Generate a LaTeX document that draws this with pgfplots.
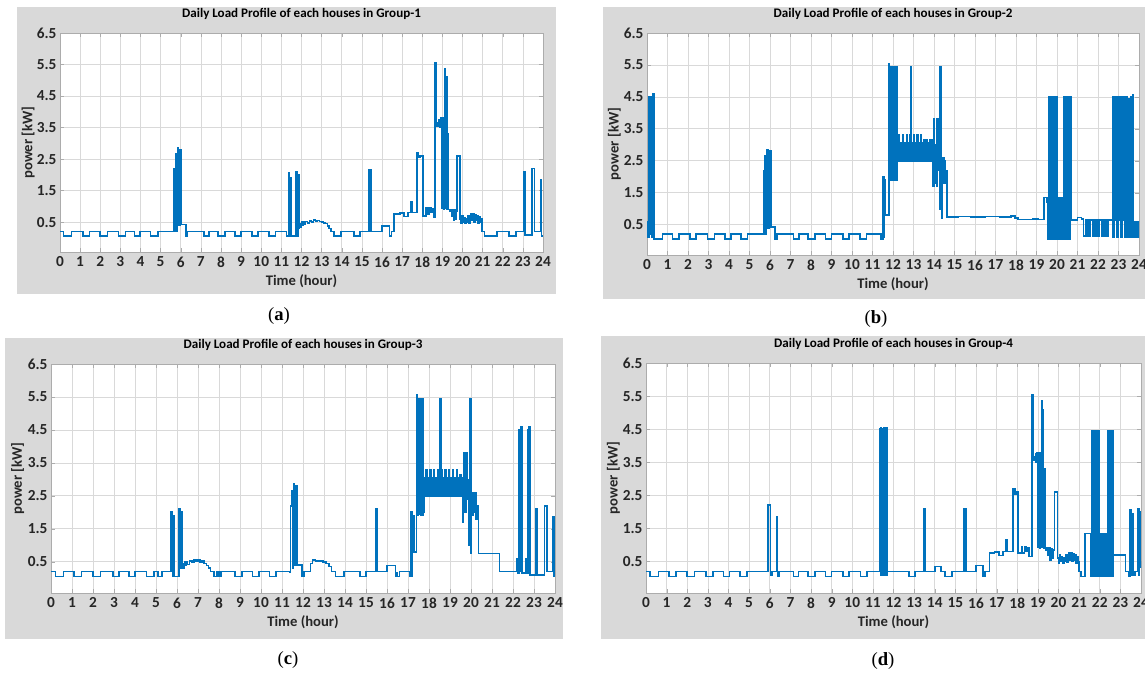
\documentclass[border=0pt]{standalone}
\usepackage{fontspec}
\setmainfont{Carlito}
\newfontfamily\capfont{Liberation Serif}
\usepackage{pgfplots}
\pgfplotsset{compat=1.18}
\definecolor{mblue}{RGB}{0,114,189}
\definecolor{panelgray}{RGB}{217,217,217}

\pgfplotsset{
  loadpanel/.style={
    scale only axis,
    xmin=0, xmax=24, ymin=-0.45, ymax=6.5,
    xtick={0,1,...,24},
    xticklabels={0,1,2,3,4,5,6,7,8,9,10,11,12,13,14,15,16,17,18,19,20,21,22,23,24},
    ytick={0.5,1.5,2.5,3.5,4.5,5.5,6.5},
    yticklabels={0.5,1.5,2.5,3.5,4.5,5.5,6.5},
    grid=major,
    major grid style={gray!30, line width=0.5pt},
    axis line style={gray!65},
    tick style={gray!65},
    major tick length=3pt,
    tick align=inside,
    axis background/.style={fill=white},
    ticklabel style={font=\bfseries\fontsize{11.5}{13}\selectfont, text=black!85},
    xticklabel style={anchor=north, inner sep=0pt, yshift=-3.5pt},
    yticklabel style={anchor=east, inner sep=0pt, xshift=-2.5pt},
    xlabel={Time (hour)}, ylabel={power [kW]},
    label style={font=\bfseries\fontsize{11}{13}\selectfont, text=black!85},
    xlabel style={at={(axis description cs:0.5,0)}, anchor=center, yshift=-21.5pt},
    ylabel style={at={(axis description cs:-0.066,0.5)}, anchor=center},
    title style={font=\bfseries\fontsize{9.8}{11}\selectfont, at={(axis description cs:0.5,1)}, anchor=center, yshift=8.5pt},
  },
  loadline/.style={const plot, color=mblue, line width=1.25pt, mark=none},
}

\begin{document}
\begin{tikzpicture}
\path[use as bounding box] (0pt,0pt) rectangle (858.75pt,-505.5pt);
% panel backgrounds
\fill[panelgray] (12.75pt,-5.25pt) rectangle (417pt,-220.5pt);
\fill[panelgray] (452.25pt,-5.25pt) rectangle (858.75pt,-224.25pt);
\fill[panelgray] (3.75pt,-253.5pt) rectangle (422.25pt,-479.25pt);
\fill[panelgray] (450.75pt,-252pt) rectangle (858.75pt,-479.25pt);

% ---------------- Group-1
\begin{axis}[loadpanel, at={(45pt,-189pt)}, anchor=south west,
  width=362.25pt, height=164.25pt,
  title={Daily Load Profile of each houses in Group-1}]
\addplot[loadline] coordinates {
(0,0.2)(0.18,0.05)(0.57,0.2)(1.14,0.05)(1.46,0.2)(2.0,0.05)(2.36,0.2)(2.9,0.05)(3.25,0.2)(3.7,0.05)(3.96,0.2)(4.5,0.05)(4.86,0.2)
(5.68,2.2)(5.74,2.65)(5.78,0.2)(5.8,2.55)(5.84,2.85)(5.88,0.4)(5.95,2.8)(6.04,0.42)(6.25,0.05)(6.32,0.2)
(7.15,0.05)(7.4,0.2)(7.85,0.05)(8.2,0.2)(8.7,0.05)(9.0,0.2)(9.55,0.05)(9.85,0.2)(10.4,0.05)(10.7,0.2)(11.25,0.05)
(11.36,2.05)(11.4,0.05)(11.45,1.9)(11.5,0.05)(11.72,2.1)(11.78,0.05)(11.82,2.0)(11.86,0.3)
(11.9,0.45)(11.95,0.35)(12.0,0.5)(12.05,0.4)(12.1,0.5)(12.15,0.42)(12.2,0.52)(12.3,0.48)(12.4,0.53)(12.5,0.5)(12.6,0.56)(12.7,0.53)(12.8,0.55)(12.9,0.52)(13.0,0.5)(13.1,0.48)(13.2,0.45)(13.3,0.38)(13.38,0.3)(13.45,0.2)(13.62,0.05)(13.95,0.2)(14.62,0.05)(14.9,0.2)
(15.35,2.15)(15.45,0.2)(16.0,0.38)(16.38,0.05)(16.48,0.2)(16.58,0.75)(16.9,0.78)(17.1,0.68)(17.3,0.8)(17.42,1.15)(17.48,0.8)(17.74,2.7)(17.82,2.55)(17.9,2.6)(18.04,0.7)(18.2,0.95)(18.26,0.75)(18.35,0.95)(18.42,0.8)(18.5,0.92)(18.56,0.65)
(18.63,5.55)(18.7,3.55)(18.78,3.65)(18.84,3.75)(18.88,3.5)(18.92,3.8)(18.95,1.1)(18.97,3.8)(18.99,0.95)(19.01,3.75)(19.03,1.0)(19.05,3.8)(19.07,0.9)(19.09,3.6)(19.11,1.0)(19.13,5.35)(19.16,0.95)(19.18,3.7)(19.2,5.1)(19.23,0.9)(19.26,3.3)(19.3,0.9)(19.36,0.85)(19.4,0.9)(19.45,0.7)(19.5,0.9)(19.55,0.55)(19.6,0.88)(19.65,0.6)(19.7,0.85)
(19.74,2.6)(19.88,0.6)
(19.92,0.45)(19.97,0.7)(20.02,0.5)(20.07,0.65)(20.12,0.45)(20.17,0.6)(20.22,0.5)(20.27,0.7)(20.32,0.48)(20.37,0.65)(20.42,0.75)(20.47,0.55)(20.52,0.75)(20.57,0.5)(20.62,0.72)(20.67,0.55)(20.72,0.7)(20.77,0.45)(20.82,0.68)(20.87,0.5)(20.92,0.6)
(20.97,0.2)(21.1,0.05)(21.7,0.2)(22.3,0.05)(22.65,0.2)(23.05,2.1)(23.12,0.08)(23.45,2.2)(23.58,0.2)(23.88,1.85)(23.93,0.05)(24,0.05)
};
\end{axis}

% ---------------- Group-2
\begin{axis}[loadpanel, at={(485.25pt,-191.25pt)}, anchor=south west,
  width=369pt, height=166.5pt,
  title={Daily Load Profile of each houses in Group-2}]
\addplot[loadline] coordinates {
(0,0.6)(0.06,0.1)(0.1,4.5)(0.14,0.2)(0.18,4.5)(0.22,0.1)(0.26,4.6)(0.33,0.05)(0.75,0.2)(1.25,0.05)(1.55,0.2)(2.1,0.05)(2.4,0.2)(2.95,0.05)(3.3,0.2)(3.8,0.05)(4.1,0.2)(4.6,0.05)(4.9,0.2)
(5.7,2.2)(5.76,2.65)(5.8,0.2)(5.83,2.85)(5.9,0.4)(5.96,2.8)(6.05,0.42)(6.25,0.05)(6.35,0.2)
(7.15,0.05)(7.4,0.2)(7.85,0.05)(8.2,0.2)(8.7,0.05)(9.0,0.2)(9.55,0.05)(9.85,0.2)(10.4,0.05)(10.7,0.2)(11.4,0.05)
(11.5,2.0)(11.55,0.1)(11.58,1.9)(11.62,0.8)
(11.8,5.55)(11.83,1.9)(11.86,5.45)(11.89,1.9)(11.92,5.45)(11.95,2.0)(11.98,5.45)(12.01,1.9)(12.04,5.45)(12.07,2.0)(12.1,5.4)(12.13,1.9)(12.16,5.45)(12.19,1.9)
(12.20,2.5)(12.23,3.05)(12.26,2.5)(12.29,3.3)(12.32,2.5)(12.35,3.05)(12.38,2.5)(12.41,3.05)(12.44,2.5)(12.47,3.3)(12.50,2.5)(12.53,3.05)(12.56,2.5)(12.59,3.05)(12.62,2.5)(12.65,3.3)(12.68,2.5)(12.71,3.05)(12.74,2.5)(12.77,3.05)(12.80,2.5)(12.83,3.3)(12.86,2.5)(12.88,5.45)(12.91,2.5)(12.94,3.05)(12.97,2.5)(13.00,3.3)(13.03,2.5)(13.06,3.05)(13.09,2.5)(13.12,3.05)(13.15,2.5)(13.18,3.3)(13.21,2.5)(13.24,3.05)(13.27,2.5)(13.30,3.05)(13.33,2.5)(13.36,3.3)(13.39,2.5)(13.42,3.05)(13.45,2.5)(13.48,3.15)(13.51,2.5)(13.54,3.15)(13.57,2.5)(13.60,3.05)(13.63,2.5)(13.66,3.15)(13.69,2.5)(13.72,3.05)(13.75,2.5)(13.78,3.15)(13.81,2.5)(13.84,3.05)(13.87,2.5)(13.90,3.15)(13.93,2.5)
(13.95,1.7)(14.0,3.8)(14.03,1.8)(14.06,2.6)(14.1,3.0)(14.12,1.7)(14.15,3.8)(14.18,2.2)(14.22,2.8)(14.26,1.0)(14.3,5.45)(14.34,4.5)(14.36,0.7)(14.4,2.6)(14.43,1.9)(14.46,2.6)(14.5,1.8)(14.53,2.5)(14.56,2.0)(14.6,2.2)(14.64,0.75)
(14.7,0.73)(15.2,0.76)(15.8,0.74)(16.5,0.76)(17.2,0.75)(17.75,0.78)(17.95,0.7)(18.1,0.66)(18.8,0.67)(19.1,0.66)
(19.37,1.35)(19.5,1.2)(19.55,0.05)
(19.62,4.5)(19.65,0.05)(19.68,4.5)(19.71,0.05)(19.74,4.5)(19.77,0.05)(19.8,4.5)(19.83,0.05)(19.86,4.5)(19.89,0.05)(19.92,4.5)(19.95,0.05)(19.98,4.5)
(20.0,0.05)(20.05,1.35)(20.1,0.05)(20.15,1.35)(20.2,0.05)(20.25,1.35)(20.3,0.05)
(20.35,4.5)(20.38,0.05)(20.41,4.5)(20.44,0.05)(20.47,4.5)(20.5,0.05)(20.53,4.5)(20.56,0.05)(20.59,4.5)(20.62,0.05)(20.64,4.5)
(20.67,0.65)(21.0,0.72)(21.2,0.68)
(21.3,0.15)(21.4,0.65)(21.52,0.15)(21.62,0.65)(21.74,0.15)(21.84,0.65)(21.96,0.15)(22.06,0.65)(22.18,0.15)(22.28,0.65)(22.4,0.15)(22.5,0.65)
(22.7,4.5)(22.72,0.1)(22.8,4.5)(22.82,0.65)(22.9,4.5)(22.92,0.1)(23.0,4.5)(23.02,0.65)(23.1,4.5)(23.12,0.1)(23.2,4.5)(23.22,0.65)(23.3,4.5)(23.32,0.1)(23.4,4.5)(23.42,0.65)(23.5,4.45)(23.52,0.1)(23.6,4.5)(23.62,0.65)(23.68,4.55)(23.7,0.1)
(23.75,0.6)(23.8,0.1)(23.84,0.6)(23.88,0.1)(23.92,0.6)(23.96,0.1)(24,0.6)
};
\end{axis}

% ---------------- Group-3
\begin{axis}[loadpanel, at={(38.25pt,-444.75pt)}, anchor=south west,
  width=378pt, height=171.75pt,
  title={Daily Load Profile of each houses in Group-3}]
\addplot[loadline] coordinates {
(0,0.2)(0.22,0.05)(0.6,0.2)(1.1,0.05)(1.45,0.2)(2.0,0.05)(2.35,0.2)(2.95,0.05)(3.25,0.2)(3.7,0.05)(4.0,0.2)(4.55,0.05)(4.9,0.2)(5.1,0.05)(5.3,0.2)
(5.72,2.0)(5.78,0.05)(5.82,1.9)(5.86,0.05)(6.1,2.1)(6.16,0.3)(6.2,2.0)(6.24,0.3)
(6.28,0.45)(6.32,0.3)(6.36,0.5)(6.4,0.38)(6.45,0.5)(6.5,0.42)(6.6,0.52)(6.7,0.5)(6.8,0.55)(6.9,0.52)(7.0,0.55)(7.1,0.5)(7.2,0.52)(7.3,0.45)(7.4,0.38)(7.5,0.3)(7.6,0.2)(7.75,0.05)(7.9,0.2)(8.0,0.05)(8.1,0.2)(8.75,0.05)(9.1,0.2)(9.6,0.05)(9.9,0.2)(10.4,0.05)(10.7,0.2)(11.35,0.18)
(11.4,2.2)(11.46,2.65)(11.5,0.3)(11.54,2.85)(11.6,0.4)(11.68,2.8)(11.74,0.4)(11.95,0.05)(12.05,0.2)
(12.35,0.45)(12.45,0.55)(12.6,0.52)(12.8,0.53)(12.95,0.5)(13.1,0.45)(13.25,0.35)(13.35,0.2)(13.55,0.05)(13.95,0.2)(14.7,0.05)(15.0,0.2)
(15.45,2.1)(15.53,0.2)(16.0,0.38)(16.4,0.05)(16.45,0.15)(16.5,0.05)(16.6,0.2)(17.1,0.05)(17.15,2.0)(17.2,0.05)(17.22,1.9)(17.28,0.8)
(17.4,1.9)(17.42,5.55)(17.45,1.9)(17.48,5.45)(17.52,1.95)(17.55,5.45)(17.6,1.9)(17.62,5.45)(17.66,1.9)(17.7,5.45)(17.74,2.0)
(17.78,2.5)(17.81,3.05)(17.84,2.5)(17.87,3.3)(17.90,2.5)(17.93,3.05)(17.96,2.5)(17.99,3.05)(18.02,2.5)(18.05,3.3)(18.08,2.5)(18.11,3.05)(18.14,2.5)(18.17,3.05)(18.20,2.5)(18.23,3.3)(18.26,2.5)(18.29,3.05)(18.32,2.5)(18.35,3.05)(18.38,2.5)(18.41,3.3)(18.44,2.5)(18.47,3.05)(18.50,2.5)(18.53,5.45)(18.56,2.5)(18.59,3.3)(18.62,2.5)(18.65,3.05)(18.68,2.5)(18.71,3.05)(18.74,2.5)(18.77,3.3)(18.80,2.5)(18.83,3.05)(18.86,2.5)(18.89,3.05)(18.92,2.5)(18.95,3.3)(18.98,2.5)(19.01,3.05)(19.04,2.5)(19.07,3.05)(19.10,2.5)(19.13,3.3)(19.16,2.5)(19.19,3.05)(19.22,2.5)(19.25,3.05)(19.28,2.5)(19.31,3.3)(19.34,2.5)(19.37,3.05)(19.40,2.5)(19.43,3.05)(19.46,2.5)(19.49,3.15)(19.52,2.5)(19.55,3.05)(19.58,2.5)
(19.6,1.7)(19.65,3.8)(19.7,2.0)(19.75,3.8)(19.8,2.4)(19.85,3.0)(19.9,1.0)(19.95,5.45)(20.0,0.75)(20.03,2.6)(20.07,1.9)(20.1,2.6)(20.14,2.0)(20.2,2.6)(20.25,1.8)(20.3,2.2)(20.35,0.75)
(20.4,0.75)(21.35,0.2)(22.2,0.6)(22.25,0.15)(22.3,4.5)(22.35,0.2)(22.38,4.6)(22.42,0.15)(22.6,0.6)(22.65,0.15)(22.7,4.5)(22.74,0.2)(22.76,4.6)(22.8,0.1)
(23.1,2.1)(23.16,0.1)(23.5,2.2)(23.62,0.2)(23.9,1.85)(23.95,0.05)(24,0.05)
};
\end{axis}

% ---------------- Group-4
\begin{axis}[loadpanel, at={(484.5pt,-444.75pt)}, anchor=south west,
  width=371.25pt, height=172.5pt,
  title={Daily Load Profile of each houses in Group-4}]
\addplot[loadline] coordinates {
(0,0.2)(0.2,0.05)(0.6,0.2)(1.1,0.05)(1.45,0.2)(2.0,0.05)(2.35,0.2)(2.9,0.05)(3.25,0.2)(3.75,0.05)(4.05,0.2)(4.55,0.05)(4.9,0.2)
(5.92,2.2)(6.04,0.1)(6.1,0.2)(6.33,1.85)(6.38,0.05)(6.45,0.2)
(7.15,0.05)(7.4,0.2)(7.85,0.05)(8.2,0.2)(8.7,0.05)(9.0,0.2)(9.55,0.05)(9.85,0.2)(10.4,0.05)(10.7,0.2)(11.3,0.2)
(11.35,4.5)(11.37,0.1)(11.39,4.55)(11.42,0.1)(11.45,4.5)(11.48,0.2)(11.52,4.55)(11.55,0.1)(11.6,4.55)(11.64,0.1)(11.67,4.55)(11.7,0.2)
(12.75,0.05)(13.05,0.2)(13.47,2.1)(13.53,0.2)(14.0,0.35)(14.3,0.2)(14.5,0.05)(14.85,0.2)(15.42,2.1)(15.5,0.2)(16.0,0.38)(16.35,0.05)(16.45,0.2)
(16.65,0.75)(16.9,0.78)(17.1,0.68)(17.3,0.8)(17.45,1.15)(17.52,0.8)(17.8,2.7)(17.88,2.55)(17.95,2.6)(18.05,0.75)(18.2,0.95)(18.26,0.75)(18.35,0.95)(18.42,0.8)(18.5,0.92)(18.56,0.65)
(18.7,5.55)(18.76,3.55)(18.82,3.65)(18.88,3.75)(18.92,3.5)(18.95,3.8)(18.98,1.1)(19.0,3.8)(19.02,0.95)(19.04,3.75)(19.06,1.0)(19.08,3.8)(19.1,0.9)(19.12,3.6)(19.14,1.0)(19.18,5.35)(19.21,0.95)(19.23,3.7)(19.25,5.1)(19.28,0.9)(19.31,3.3)(19.35,0.9)(19.4,0.85)(19.45,0.9)(19.5,0.7)(19.55,0.9)(19.6,0.55)(19.65,0.88)(19.7,0.6)(19.75,0.85)
(19.8,2.6)(19.95,0.6)
(20.0,0.45)(20.05,0.7)(20.1,0.5)(20.15,0.65)(20.2,0.45)(20.25,0.6)(20.3,0.5)(20.35,0.7)(20.4,0.48)(20.45,0.65)(20.5,0.75)(20.55,0.55)(20.6,0.75)(20.65,0.5)(20.7,0.72)(20.75,0.55)(20.8,0.7)(20.85,0.45)(20.9,0.65)(20.95,0.5)
(21.0,0.2)(21.08,0.05)(21.3,1.35)(21.55,0.05)
(21.6,4.45)(21.63,0.05)(21.66,4.45)(21.69,0.05)(21.72,4.45)(21.75,0.05)(21.78,4.45)(21.81,0.05)(21.84,4.45)(21.87,0.05)(21.9,4.45)(21.93,0.05)(21.96,4.45)(21.99,0.05)
(22.0,1.35)(22.05,0.05)(22.1,1.35)(22.15,0.05)(22.2,1.35)(22.25,0.05)(22.3,1.35)(22.35,0.05)
(22.4,4.45)(22.43,0.05)(22.46,4.45)(22.49,0.05)(22.52,4.45)(22.55,0.05)(22.58,4.45)(22.61,0.05)(22.64,4.45)
(22.67,0.7)(23.25,0.2)(23.4,0.05)(23.48,2.05)(23.52,0.1)(23.56,1.95)(23.6,0.1)(23.7,0.2)(23.86,2.1)(23.9,0.1)(23.93,2.0)(23.97,0.5)(24,0.3)
};
\end{axis}

% sub-figure captions
\node[font=\capfont\fontsize{14}{16}\selectfont] at (209.25pt,-237pt) {(\textbf{a})};
\node[font=\capfont\fontsize{14}{16}\selectfont] at (657pt,-239.25pt) {(\textbf{b})};
\node[font=\capfont\fontsize{14}{16}\selectfont] at (216pt,-495pt) {(\textbf{c})};
\node[font=\capfont\fontsize{14}{16}\selectfont] at (662.25pt,-495.75pt) {(\textbf{d})};
\end{tikzpicture}
\end{document}
